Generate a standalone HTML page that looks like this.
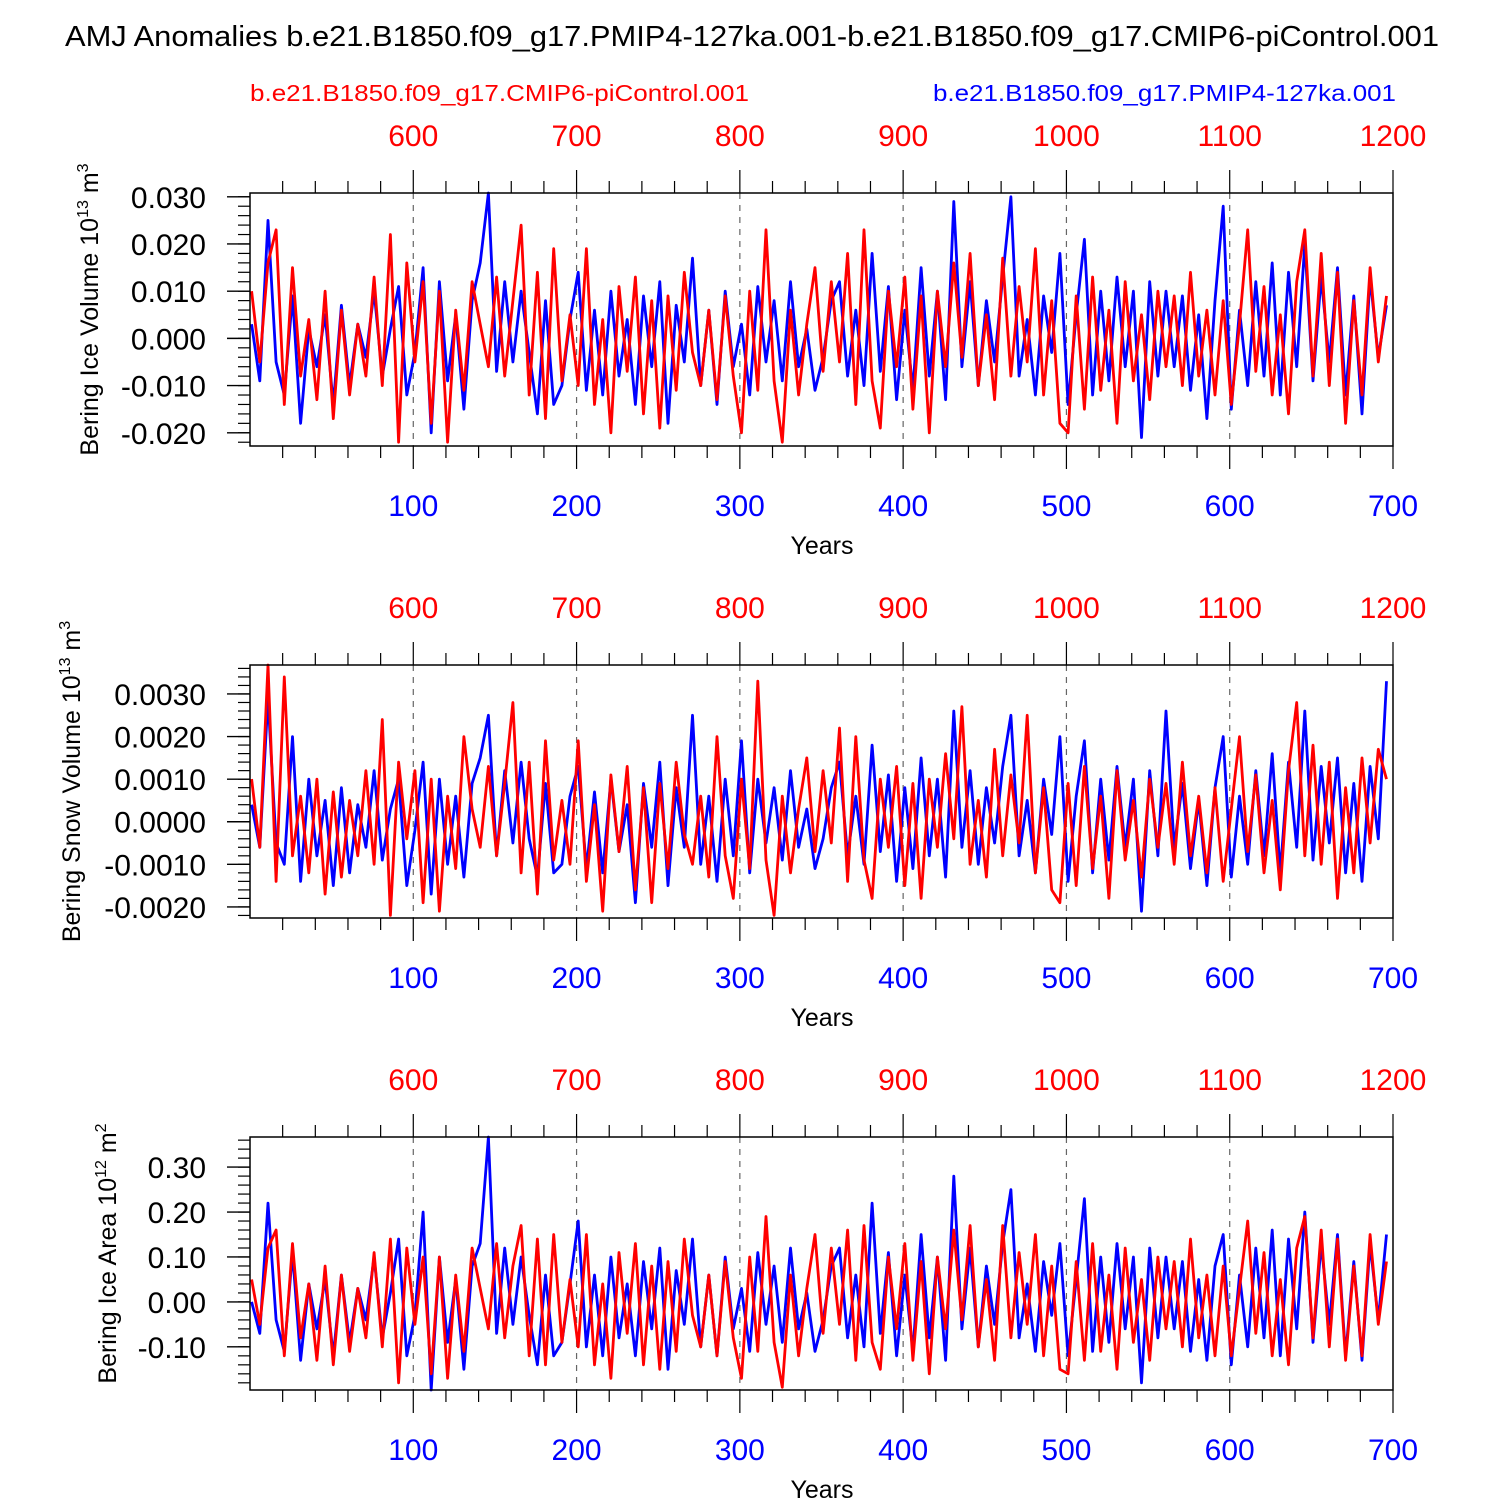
<!DOCTYPE html>
<html><head><meta charset="utf-8"><style>
body{margin:0;background:#fff}
svg{display:block;font-family:"Liberation Sans",sans-serif}
</style></head><body>
<svg id="chart" width="1500" height="1500" viewBox="0 0 1500 1500" xmlns="http://www.w3.org/2000/svg">
<text x="65" y="46" font-size="29" textLength="1374" lengthAdjust="spacingAndGlyphs">AMJ Anomalies b.e21.B1850.f09_g17.PMIP4-127ka.001-b.e21.B1850.f09_g17.CMIP6-piControl.001</text>
<text x="250" y="101" font-size="23" fill="#f00" textLength="499" lengthAdjust="spacingAndGlyphs">b.e21.B1850.f09_g17.CMIP6-piControl.001</text>
<text x="933" y="101" font-size="23" fill="#00f" textLength="463" lengthAdjust="spacingAndGlyphs">b.e21.B1850.f09_g17.PMIP4-127ka.001</text>
<g id="panels"></g>
</svg>
<script>
// Blue: PMIP4-127ka years 0..695 step 5; Red: piControl years 500..1195 step 5
const yearStep = 5;
const blueStart = 0;
const redStart = 500;
const iceVolBlue = [3,-9,25,-5,-12,9,-18,2,-6,5,-14,7,-10,3,-4,10,-8,2,11,-12,
-3,15,-20,12,-9,5,-15,8,16,31,-7,12,-5,10,-3,-16,8,-14,-10,4,
14,-11,6,-12,10,-8,4,-14,9,-6,12,-18,7,-5,17,-10,6,-14,10,-6,
3,-12,11,-5,8,-9,12,-6,2,-11,-4,8,12,-8,6,-10,18,-7,11,-13,
6,-11,15,-8,10,-13,29,-6,12,-10,8,-5,13,30,-8,4,-12,9,-3,18,
-14,5,21,-12,10,-9,13,-6,10,-21,12,-8,10,-6,9,-11,5,-17,8,28,
-15,6,-10,12,-8,16,-12,14,-6,20,-9,13,-5,15,-12,9,-16,13,-4,7];
const iceVolRed = [10,-5,16,23,-14,15,-8,4,-13,10,-17,6,-12,3,-8,13,-10,22,-22,16,
-5,12,-18,10,-22,6,-11,12,3,-6,13,-8,8,24,-12,14,-17,19,-9,5,
-10,19,-14,4,-20,11,-7,13,-16,8,-19,9,-11,14,-3,-10,6,-13,9,-8,
-20,10,-11,23,-9,-22,6,-12,3,15,-7,12,-5,18,-14,23,-9,-19,10,-6,
13,-15,9,-20,10,-6,16,-4,18,-10,5,-13,17,-8,11,-5,19,-12,8,-18,
-20,9,-15,13,-11,6,-18,12,-9,5,-13,10,-6,9,-10,14,-8,6,-12,8,
-14,3,23,-7,11,-12,5,-16,12,23,-8,18,-10,14,-18,8,-12,15,-5,9];
const snowBlue = [4,-6,29,-5,-10,20,-14,10,-8,5,-15,8,-12,4,-6,12,-9,3,10,-15,
-2,14,-17,10,-10,6,-13,9,15,25,-8,12,-5,14,-4,-13,9,-12,-10,6,
13,-11,7,-12,10,-7,4,-19,9,-6,14,-15,8,-6,25,-10,6,-14,10,-8,
19,-12,10,-5,8,-9,12,-6,3,-11,-4,8,14,-8,6,-10,18,-7,11,-14,
8,-11,15,-8,10,-13,26,-6,12,-10,8,-5,13,25,-8,5,-12,10,-3,20,
-14,6,19,-12,10,-9,13,-6,10,-21,12,-8,26,-6,9,-11,5,-15,8,20,
-13,6,-10,12,-8,16,-12,14,-6,26,-9,13,-5,15,-12,9,-14,13,-4,33];
const snowRed = [10,-6,37,-14,34,-8,6,-12,10,-17,7,-13,5,-8,12,-10,24,-22,14,-4,
12,-19,10,-21,6,-11,20,3,-6,13,-8,9,28,-12,14,-17,19,-9,5,-10,
19,-14,4,-21,11,-7,13,-16,8,-19,9,-11,14,-3,-10,6,-13,20,-8,-18,
10,-11,33,-9,-22,6,-12,3,15,-7,12,-5,22,-14,20,-9,-18,10,-6,13,
-15,9,-18,10,-6,16,-4,27,-10,5,-13,17,-8,11,-5,25,-12,8,-16,-19,
9,-15,13,-11,6,-18,12,-9,5,-13,10,-6,9,-10,14,-8,6,-12,8,-14,
3,20,-7,11,-12,5,-16,12,28,-8,18,-10,14,-18,8,-12,15,-5,17,10];
const areaBlue = [0,-7,22,-4,-11,11,-13,4,-6,5,-12,6,-9,3,-4,10,-8,2,14,-12,
-3,20,-20,10,-9,5,-15,8,13,37,-7,12,-5,10,-3,-14,6,-12,-9,4,
18,-10,6,-12,10,-8,4,-12,9,-6,12,-15,7,-5,14,-10,6,-12,10,-6,
3,-11,11,-5,8,-9,12,-6,2,-11,-4,8,12,-8,6,-10,22,-7,11,-12,
6,-11,15,-8,10,-13,28,-6,12,-10,8,-5,13,25,-8,4,-11,9,-3,13,
-12,5,23,-11,10,-9,13,-6,10,-18,12,-8,10,-6,9,-11,5,-13,8,15,
-14,6,-10,12,-8,16,-12,14,-6,20,-9,13,-5,15,-12,9,-13,13,-4,15];
const areaRed = [5,-5,12,16,-12,13,-8,4,-13,8,-14,6,-11,3,-8,11,-10,14,-18,12,
-5,10,-16,10,-17,6,-11,12,3,-6,13,-8,8,17,-12,14,-14,15,-9,5,
-10,15,-14,4,-17,11,-7,13,-14,8,-15,9,-11,14,-3,-10,6,-12,9,-8,
-17,10,-11,19,-9,-19,6,-12,3,15,-7,12,-5,16,-13,17,-9,-15,10,-6,
13,-13,9,-16,10,-6,16,-4,17,-10,5,-13,17,-8,11,-5,15,-12,8,-15,
-16,9,-13,13,-11,6,-15,12,-9,5,-13,10,-6,9,-10,14,-8,6,-12,8,
-12,3,18,-7,11,-12,5,-14,12,19,-8,16,-10,14,-13,8,-12,15,-5,9];
const bottomTicks = [100,200,300,400,500,600,700];
const topTicks = [600,700,800,900,1000,1100,1200];
const iceVolTicks = ["0.030","0.020","0.010","0.000","-0.010","-0.020"];
const snowTicks = ["0.0030","0.0020","0.0010","0.0000","-0.0010","-0.0020"];
const areaTicks = ["0.30","0.20","0.10","0.00","-0.10"];

const NS="http://www.w3.org/2000/svg";
const X0=250,X1=1393;
function xScale(year){return X0+(year-0)/700*(X1-X0);}
function mk(tag,attrs,parent){const e=document.createElementNS(NS,tag);for(const k in attrs)e.setAttribute(k,attrs[k]);parent.appendChild(e);return e;}
const root=document.getElementById('panels');

const panels=[
 {name:'ice-volume',top:193,bottom:446,ymin:-0.0228,ymax:0.0308,unit:0.001,minor:0.002,blue:iceVolBlue,red:iceVolRed,ticks:iceVolTicks,title:['Bering Ice Volume 10','13',' m','3'],tx:98},
 {name:'snow-volume',top:665,bottom:918,ymin:-0.00226,ymax:0.00368,unit:0.0001,minor:0.0002,blue:snowBlue,red:snowRed,ticks:snowTicks,title:['Bering Snow Volume 10','13',' m','3'],tx:80},
 {name:'ice-area',top:1137,bottom:1390,ymin:-0.196,ymax:0.367,unit:0.01,minor:0.02,blue:areaBlue,red:areaRed,ticks:areaTicks,title:['Bering Ice Area 10','12',' m','2'],tx:116}
];

panels.forEach(p=>{
 const g=mk('g',{},root);
 
 
 const yS=v=>p.bottom-(v-p.ymin)/(p.ymax-p.ymin)*(p.bottom-p.top);
 bottomTicks.forEach(t=>{ if(t<700){const l=mk('line',{x1:xScale(t),x2:xScale(t),y1:p.top,y2:p.bottom,stroke:'#666','stroke-width':1.2,'stroke-dasharray':'6,6'},g);
  
  }});
 [[p.blue,blueStart,'#00f','series-127ka'],[p.red,redStart,'#f00','series-picontrol']].forEach(([arr,start,col,nm])=>{
  const off = start===redStart?500:0;
  const pts=arr.map((v,i)=>xScale(start+i*yearStep-off+1).toFixed(1)+','+yS(Math.max(p.ymin,Math.min(p.ymax,v*p.unit))).toFixed(1)).join(' ');
  const pl=mk('polyline',{points:pts,fill:'none',stroke:col,'stroke-width':2.8,'stroke-linejoin':'round'},g);
  
  
 });
 const fr=mk('rect',{x:X0,y:p.top,width:X1-X0,height:p.bottom-p.top,fill:'none',stroke:'#000','stroke-width':1.5},g);
 
 
 for(let t=20;t<=700;t+=20){
  const major=t%100===0, len=major?23:12, x=xScale(t);
  mk('line',{x1:x,x2:x,y1:p.bottom,y2:p.bottom+len,stroke:'#000','stroke-width':1.2},g);
  mk('line',{x1:x,x2:x,y1:p.top,y2:p.top-len,stroke:'#000','stroke-width':1.2},g);
 }
 bottomTicks.forEach(t=>{const tx=mk('text',{x:xScale(t),y:p.bottom+70,'font-size':30,'text-anchor':'middle',fill:'#00f'},g);tx.textContent=t;
  
  });
 topTicks.forEach(t=>{const tx=mk('text',{x:xScale(t-500),y:p.top-47,'font-size':30,'text-anchor':'middle',fill:'#f00'},g);tx.textContent=t;
  
  });
 const xt=mk('text',{x:822,y:p.bottom+108,'font-size':25,'text-anchor':'middle'},g);xt.textContent='Years';
 
 
 const step=p.minor;
 for(let v=Math.ceil(p.ymin/step)*step; v<=p.ymax+1e-12; v+=step){
  const y=yS(v); mk('line',{x1:X0,x2:X0-12,y1:y,y2:y,stroke:'#000','stroke-width':1.2},g);
 }
 p.ticks.forEach(s=>{const v=parseFloat(s),y=yS(v);
  mk('line',{x1:X0,x2:X0-23,y1:y,y2:y,stroke:'#000','stroke-width':1.4},g);
  const tx=mk('text',{x:X0-44,y:y+11,'font-size':30,'text-anchor':'end'},g);tx.textContent=s;
  
  });
 const cy=(p.top+p.bottom)/2-10;
 const yt=mk('text',{x:p.tx,y:cy,'font-size':25,'text-anchor':'middle',transform:`rotate(-90 ${p.tx} ${cy})`},g);
 
 
 const [a,b,c,d]=p.title;
 yt.appendChild(document.createTextNode(a));
 const s1=mk('tspan',{'font-size':16,dy:-10},yt);s1.textContent=b;
 const s2=mk('tspan',{dy:10},yt);s2.textContent=c;
 const s3=mk('tspan',{'font-size':16,dy:-10},yt);s3.textContent=d;
});
</script>
</body></html>
